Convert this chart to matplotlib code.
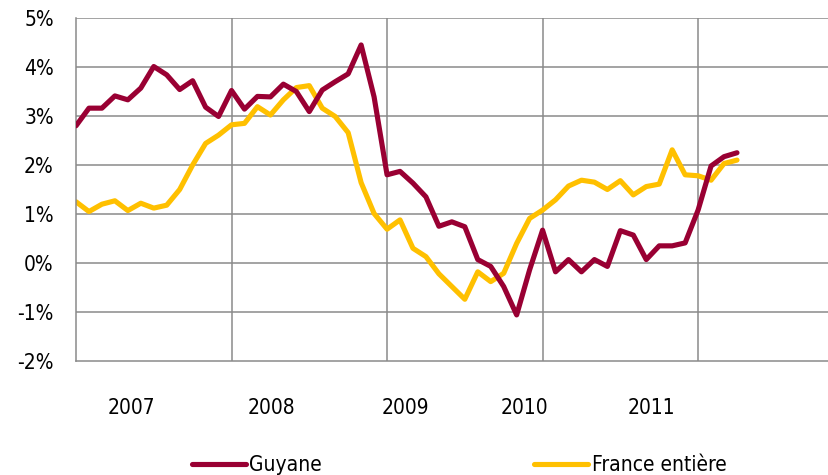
import matplotlib
matplotlib.use('Agg')
import matplotlib.pyplot as plt
import numpy as np

# Glissement annuel mensuel, janvier 2007 -> avril 2011
guyane = [2.80, 3.16, 3.16, 3.41, 3.33, 3.57, 4.01, 3.84, 3.54, 3.72, 3.18, 2.99,
          3.52, 3.14, 3.40, 3.39, 3.65, 3.50, 3.09, 3.53, 3.70, 3.86, 4.45, 3.39,
          1.80, 1.87, 1.63, 1.35, 0.75, 0.84, 0.74, 0.07, -0.07, -0.48, -1.06, -0.14,
          0.67, -0.18, 0.07, -0.18, 0.07, -0.07, 0.66, 0.57, 0.07, 0.35, 0.35, 0.41,
          1.08, 1.98, 2.17, 2.25]
france = [1.25, 1.05, 1.20, 1.27, 1.07, 1.22, 1.12, 1.18, 1.50, 2.00, 2.44, 2.61,
          2.82, 2.85, 3.19, 3.02, 3.33, 3.58, 3.62, 3.16, 2.99, 2.66, 1.64, 1.01,
          0.69, 0.88, 0.30, 0.13, -0.22, -0.48, -0.74, -0.18, -0.38, -0.21, 0.40, 0.91,
          1.08, 1.29, 1.57, 1.69, 1.65, 1.50, 1.68, 1.39, 1.56, 1.61, 2.31, 1.80,
          1.78, 1.69, 2.03, 2.10]
annees = ['2007', '2008', '2009', '2010', '2011']
series = ['Guyane', 'France entière']

# Style
COULEURS = ['#990033', '#FFC000']
GRIS = '#8a8a8a'
POS_ANNEES = [4.25, 15.05, 25.4, 34.6, 44.4]  # position des étiquettes (en mois)

plt.rcParams['font.family'] = ['DejaVu Sans']
plt.rcParams['font.stretch'] = 'condensed'

fig = plt.figure(figsize=(8.29, 4.75), dpi=100)
ax = fig.add_axes([76 / 829, 1 - 361 / 475, 1 - 76 / 829, (361 - 18) / 475])

mois = np.arange(len(guyane))
ax.plot(mois, guyane, color=COULEURS[0], lw=3.7, label=series[0],
        solid_capstyle='round', solid_joinstyle='round', zorder=3)
ax.plot(mois, france, color=COULEURS[1], lw=3.7, label=series[1],
        solid_capstyle='round', solid_joinstyle='round', zorder=2)

ax.set_xlim(0, 58.1)
ax.set_ylim(-2, 5)
ax.set_yticks(np.arange(-2, 6, 1))
ax.set_yticklabels([f'{v}%' for v in range(-2, 6)], fontsize=15)
ax.set_xticks(POS_ANNEES)
ax.set_xticklabels(annees, fontsize=15)
ax.tick_params(axis='both', length=0, colors='black')
ax.tick_params(axis='y', pad=16)
ax.tick_params(axis='x', pad=27)

# Quadrillage
for y in range(-1, 6):
    ax.axhline(y, color=GRIS, lw=1.1, zorder=1)
for x in [12, 24, 36, 48]:
    ax.axvline(x, color=GRIS, lw=1.1, zorder=1)
for nom, sp in ax.spines.items():
    sp.set_visible(nom in ('left', 'bottom'))
    sp.set_color(GRIS)
    sp.set_linewidth(1.1)

fig.legend(loc='center', bbox_to_anchor=(459 / 829, 1 - 465 / 475), ncol=2,
           frameon=False, fontsize=15, handlelength=2.6, handletextpad=0.15,
           columnspacing=10.2, borderaxespad=0)

plt.savefig('out.png', dpi=100)
plt.close()
